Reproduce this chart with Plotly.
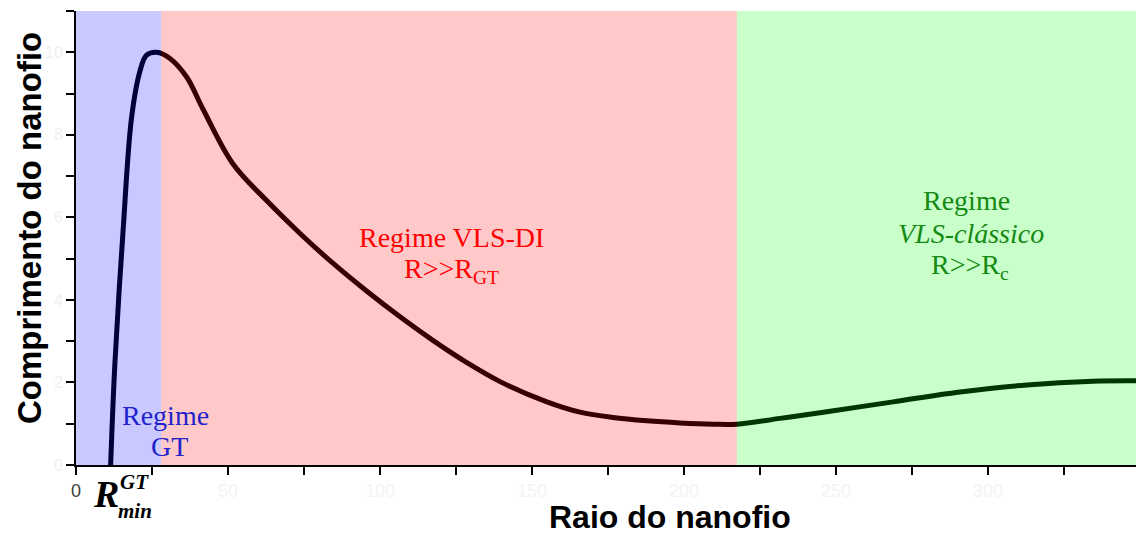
import plotly.graph_objects as go

# ---- data ----
radius = [11.4, 12.8, 15.5, 18.3, 21.1, 23.2, 26.5, 30.9, 36.4, 41.8, 51.6, 62.8,
          73.7, 84.5, 95.7, 106.6, 117.4, 128.6, 139.5, 154.9, 165.8, 176.6, 187.8,
          198.7, 209.5, 217.4, 231.6, 247.0, 268.8, 290.8, 312.8, 334.5, 348.7]
length = [0.0, 2.47, 5.69, 8.43, 9.56, 9.93, 10.0, 9.85, 9.40, 8.62, 7.30, 6.40,
          5.61, 4.89, 4.21, 3.59, 3.02, 2.48, 2.02, 1.53, 1.28, 1.15, 1.07,
          1.02, 0.99, 0.99, 1.13, 1.29, 1.53, 1.77, 1.94, 2.03, 2.04]

region_bounds = [0, 28, 217.4, 348.7]
region_colors = ["#0000ff", "#ff0000", "#00ff00"]

x_tickvals = [0, 50, 100, 150, 200, 250, 300]
x_ticktext = ["<span style='color:#3a3a3a'>0</span>", "50", "100", "150", "200", "250", "300"]
y_tickvals = [0, 2, 4, 6, 8, 10]
y_ticktext = ["0", "2", "4", "6", "8", "10"]

fig = go.Figure()
fig.add_trace(go.Scatter(x=radius, y=length, mode="lines",
                         line=dict(color="black", width=5, shape="spline", smoothing=1.0),
                         showlegend=False, hoverinfo="skip"))

for i, c in enumerate(region_colors):
    fig.add_shape(type="rect", xref="x", yref="y",
                  x0=region_bounds[i], x1=region_bounds[i + 1], y0=0, y1=11,
                  fillcolor=c, opacity=0.21, line=dict(width=0), layer="above")

serif = "Liberation Serif, Times New Roman, serif"
sans = "Liberation Sans, Arial, sans-serif"

def label(text, x, y, color, size=28, italic=False):
    fig.add_annotation(x=x, y=y, xref="x", yref="y", text=text, showarrow=False,
                       xanchor="center", yanchor="middle",
                       font=dict(family=serif, size=size, color=color,
                                 style="italic" if italic else "normal"))

blue_t = "#2222cc"
red_t = "#ff0000"
green_t = "#148a14"
label("Regime", 29.3, 1.21, blue_t)
label("GT", 30.6, 0.46, blue_t)
label("Regime VLS-DI", 123.4, 5.52, red_t)
label("R&gt;&gt;R<sub>GT</sub>", 123.4, 4.72, red_t)
label("Regime", 293.1, 6.40, green_t)
label("VLS-clássico", 294.4, 5.60, green_t, italic=True)
label("R&gt;&gt;R<sub>c</sub>", 294.1, 4.80, green_t)

# R_min^GT label under the axis
fig.add_annotation(x=9.9, y=-0.064, xref="x", yref="paper", text="<b><i>R</i></b>",
                   showarrow=False, xanchor="center", yanchor="middle",
                   font=dict(family=serif, size=38, color="black"))
fig.add_annotation(x=19.4, y=-0.037, xref="x", yref="paper", text="<b><i>GT</i></b>",
                   showarrow=False, xanchor="center", yanchor="middle",
                   font=dict(family=serif, size=21, color="black"))
fig.add_annotation(x=19.4, y=-0.101, xref="x", yref="paper", text="<b><i>min</i></b>",
                   showarrow=False, xanchor="center", yanchor="middle",
                   font=dict(family=serif, size=21, color="black"))

# axis titles
fig.add_annotation(x=-0.0443, y=0.522, xref="paper", yref="paper",
                   text="<b>Comprimento do nanofio</b>", textangle=-90, showarrow=False,
                   xanchor="center", yanchor="middle",
                   font=dict(family=sans, size=33, color="black"))
fig.add_annotation(x=0.560, y=-0.115, xref="paper", yref="paper",
                   text="<b>Raio do nanofio</b>", showarrow=False,
                   xanchor="center", yanchor="middle",
                   font=dict(family=sans, size=32, color="black"))

fig.update_xaxes(range=[0, 348.7], showgrid=False, zeroline=False,
                 showline=True, linecolor="black", linewidth=2,
                 ticks="outside", ticklen=8, tickwidth=2, tickcolor="black",
                 tickvals=x_tickvals, ticktext=x_ticktext,
                 tickfont=dict(family=sans, size=18, color="#f3f3f3"),
                 minor=dict(dtick=25, tick0=0, ticks="outside", ticklen=8,
                            tickwidth=2, tickcolor="black", showgrid=False))
fig.update_yaxes(range=[0, 11], showgrid=False, zeroline=False,
                 showline=True, linecolor="black", linewidth=2,
                 ticks="outside", ticklen=8, tickwidth=2, tickcolor="black",
                 tickvals=y_tickvals, ticktext=y_ticktext,
                 tickfont=dict(family=sans, size=16, color="#f0f0f0"),
                 minor=dict(dtick=1, tick0=0, ticks="outside", ticklen=8,
                            tickwidth=2, tickcolor="black", showgrid=False))

fig.update_layout(width=1136, height=535, margin=dict(l=76, r=0, t=11, b=70),
                  paper_bgcolor="white", plot_bgcolor="white", showlegend=False)

fig.write_html("out.html")
